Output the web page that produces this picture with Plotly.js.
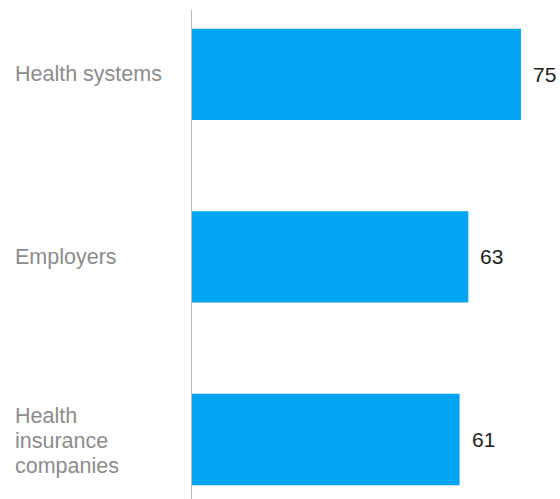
<!DOCTYPE html>
<html>
<head>
<meta charset="utf-8">
<script src="https://cdn.plot.ly/plotly-3.0.1.min.js"></script>
<style>html,body{margin:0;padding:0;background:#fff;}#chart{width:560px;height:499px;}</style>
</head>
<body>
<div id="chart"></div>
<script>
var categories = ["Health systems", "Employers", "Health insurance companies"];
var categoryLabels = ["Health systems", "Employers", "Health<br>insurance<br>companies"];
var values = [75, 63, 61];
var valueLabels = ["75", "63", "61"];

var labelFont = {family: "Liberation Sans, Arial, sans-serif", size: 21.5, color: "#8c8c8c"};
var valueFont = {family: "Liberation Sans, Arial, sans-serif", size: 21, color: "#1e1e1e"};
var lineGap = 25;

var annotations = [];
categories.forEach(function(c, i){
  var lines = categoryLabels[i].split("<br>");
  var n = lines.length;
  lines.forEach(function(line, j){
    annotations.push({
      xref: "paper", yref: "y", x: 0, y: c, xanchor: "left", yanchor: "middle",
      xshift: -179, yshift: ((n - 1) / 2 - j) * lineGap - (n > 1 ? 2 : 0),
      text: line, showarrow: false, align: "left", font: labelFont
    });
  });
  annotations.push({
    xref: "x", yref: "y", x: values[i], y: c, xanchor: "left", yanchor: "middle",
    xshift: 10, text: valueLabels[i], showarrow: false, font: valueFont
  });
});

var trace = {
  type: "bar", orientation: "h",
  x: values, y: categories,
  width: 0.5,
  marker: {color: "#00a4ef"},
  hoverinfo: "none"
};

var layout = {
  width: 560, height: 499,
  margin: {l: 192, r: 0, t: 10, b: 0, pad: 0},
  paper_bgcolor: "#ffffff", plot_bgcolor: "#ffffff",
  showlegend: false,
  xaxis: {range: [0, 83.9], visible: false, fixedrange: true},
  yaxis: {
    type: "category", categoryorder: "array", categoryarray: categories,
    range: [2.326, -0.353], showticklabels: false, ticks: "",
    showgrid: false, zeroline: false, showline: true, linecolor: "#b5b5b5", linewidth: 1.5
  },
  annotations: annotations
};

Plotly.newPlot("chart", [trace], layout, {displayModeBar: false, staticPlot: true});
</script>
</body>
</html>
